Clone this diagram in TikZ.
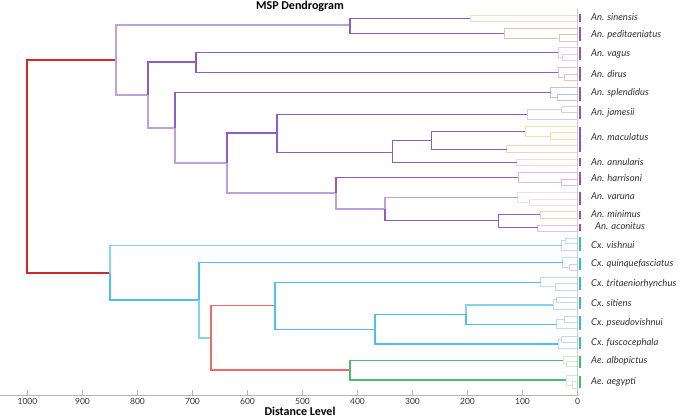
\documentclass[tikz,border=0pt]{standalone}
\usepackage{fontspec}
\setmainfont{Lato}
\newfontfamily\ttlfont{Carlito}
\definecolor{pdark}{HTML}{8E5CC2}
\definecolor{plight}{HTML}{BFA0DC}
\definecolor{cyanc}{HTML}{4DC0EC}
\definecolor{cyanl}{HTML}{86D2F1}
\definecolor{greenc}{HTML}{4CBB78}
\definecolor{redc}{HTML}{CF2A2A}
\definecolor{redl}{HTML}{F06868}
\definecolor{barp}{HTML}{8F4FC6}
\definecolor{barc}{HTML}{2FB5EC}
\definecolor{barg}{HTML}{3CB96A}
\definecolor{axisc}{HTML}{B4B4B4}
\definecolor{vaxis}{HTML}{CCCCCC}
\definecolor{labgray}{HTML}{333333}
\definecolor{csin}{HTML}{F3DCC2}
\definecolor{cped}{HTML}{DCC8B4}
\definecolor{cvag}{HTML}{F4C6EC}
\definecolor{cdir}{HTML}{F4BDBD}
\definecolor{cspl}{HTML}{BFBFEE}
\definecolor{cjam}{HTML}{D4D0DC}
\definecolor{cmac}{HTML}{F4E2A0}
\definecolor{cmacb}{HTML}{E6D8C0}
\definecolor{cann}{HTML}{F6D6D0}
\definecolor{char}{HTML}{E6B4E2}
\definecolor{cvar}{HTML}{F6DEDE}
\definecolor{cmin}{HTML}{F0D0AC}
\definecolor{caco}{HTML}{E6BCEA}
\definecolor{ccx}{HTML}{C4D8EA}
\definecolor{cae}{HTML}{D4E6CC}
\newcommand{\lfbr}[4]{\draw[fl,draw=#1] (577,#3) -| (#2,#4) -- (577,#4);}
\newcommand{\lfarm}[5]{\draw[fl,draw=#1] (577,#3) -| (#2,#4) -- (#5,#4);}
\newcommand{\lfarmup}[5]{\draw[fl,draw=#1] (#4,#3) -| (#2,#5) -- (577,#5);}
\begin{document}
\begin{tikzpicture}[x=1pt,y=-1pt,
  dk/.style={draw=pdark,line width=1.1pt},
  lt/.style={draw=plight,line width=1.5pt},
  cy/.style={draw=cyanc,line width=1.1pt},
  cyl/.style={draw=cyanl,line width=1.5pt},
  gr/.style={draw=greenc,line width=1.1pt},
  rd/.style={draw=redc,line width=1.1pt},
  rdl/.style={draw=redl,line width=1.4pt},
  fl/.style={line width=0.9pt},
  lbar/.style={line width=2pt},
  leaflab/.style={anchor=west,inner sep=0pt,text=labgray,font=\itshape\fontsize{9.5}{11}\selectfont},
  ticklab/.style={inner sep=0pt,text=labgray,font=\fontsize{8.5}{10}\selectfont},
  ttl/.style={inner sep=0pt,text=black,font=\ttlfont\bfseries\fontsize{12}{14}\selectfont}]
\useasboundingbox (0,0) rectangle (685,418);
% axes
\draw[draw=vaxis,line width=1pt] (577.5,9) -- (577.5,395);
\draw[draw=axisc,line width=0.8pt] (0,395) -- (578,395);
\foreach \d in {0,100,...,1000}{
  \draw[draw=axisc,line width=0.8pt] ({577.5-0.55*\d},395) -- ++(0,-5);
  \node[ticklab] (t\d) at ({577.5-0.55*\d},401) {\d};
}
\node[ttl] (title) at (300,6.5) {MSP Dendrogram};
\node[ttl] (xlab) at (300,411) {Distance Level};
% internal coordinates
\coordinate (R) at (27,166);
\coordinate (A) at (116,60);
\coordinate (A1) at (350,25);
\coordinate (A2) at (148,95);
\coordinate (A3) at (196,62);
\coordinate (A4) at (175,128);
\coordinate (A5) at (227,163);
\coordinate (A6) at (277,133);
\coordinate (A7) at (336,193);
\coordinate (A8) at (392.7,152.3);
\coordinate (A9) at (431.7,140.7);
\coordinate (A10) at (385,209);
\coordinate (A11) at (498.3,220.7);
\coordinate (sin) at (470,18.3);
\coordinate (ped) at (504,33.3);
\coordinate (vag) at (558,52.3);
\coordinate (dir) at (558,72.3);
\coordinate (spl) at (550.7,92.3);
\coordinate (jam) at (527.3,114.3);
\coordinate (mac1) at (525,131.7);
\coordinate (mac2) at (506.7,149.3);
\coordinate (ann) at (516.7,162.7);
\coordinate (har) at (518.3,177.3);
\coordinate (var) at (517.7,197.3);
\coordinate (min) at (540,214.3);
\coordinate (aco) at (537.7,227.7);
\coordinate (C) at (110,273);
\coordinate (C1) at (199,300);
\coordinate (D) at (211,338);
\coordinate (C2) at (275,305.7);
\coordinate (C3) at (375,329.3);
\coordinate (C4) at (466,314.3);
\coordinate (G) at (350,370);
\coordinate (vis) at (561.7,245.7);
\coordinate (qui) at (562.7,262.3);
\coordinate (tri) at (540.7,282.3);
\coordinate (sit) at (553.3,305);
\coordinate (pse) at (556.7,324.3);
\coordinate (fus) at (558.3,344);
\coordinate (alb) at (563.3,360.7);
\coordinate (aeg) at (566,380);
% faint leaf groups
\lfbr{csin}{470}{15}{21.7}
\lfarm{cped}{504}{28.3}{38.3}{559}\lfbr{cped}{559}{34.7}{41}
\lfarm{cvag}{558}{47.7}{57}{562}\lfbr{cvag}{562}{54.3}{60}
\lfarm{cdir}{558}{67.3}{77}{564}\lfbr{cdir}{564}{74}{80.7}
\lfarm{cspl}{550.7}{87.3}{97}{557.3}\lfbr{cspl}{557.3}{94}{100.7}
\lfarmup{cjam}{527.3}{109.5}{561.7}{119.3}\lfbr{cjam}{561.7}{106}{112.7}
\lfarm{cmac}{525}{126}{136}{550.7}\lfbr{cmac}{550.7}{132.7}{139}
\lfbr{cmacb}{506.7}{145.7}{152.3}
\lfbr{cann}{516.7}{159.3}{165.3}
\lfarm{char}{518.3}{172.3}{182}{561.7}\lfbr{char}{561.7}{179}{185}
\lfarm{cvar}{517.7}{192.3}{202}{529}\lfbr{cvar}{529}{199}{205}
\lfbr{cmin}{540}{211.7}{218.3}
\lfbr{caco}{537.7}{225}{231}
\lfarmup{ccx}{561.7}{240.8}{565}{250}\lfbr{ccx}{565}{238.3}{243.3}
\lfarm{ccx}{562.7}{257.7}{267.2}{569.3}\lfbr{ccx}{569.3}{264.3}{270}
\lfarm{ccx}{540.7}{277.3}{286.7}{555.7}\lfbr{ccx}{555.7}{283.3}{290}
\lfarmup{ccx}{553.3}{299.5}{556}{309}\lfbr{ccx}{556}{297}{302}
\lfarmup{ccx}{556.7}{319.7}{564.3}{328.3}\lfbr{ccx}{564.3}{316.7}{322.7}
\lfarmup{ccx}{558.3}{339.5}{561}{348.3}\lfbr{ccx}{561}{336.7}{342.3}
\lfarm{cae}{563.3}{356.7}{363.5}{566}\lfbr{cae}{566}{361}{366}
\lfarm{cae}{566}{375.7}{385}{572.7}\lfbr{cae}{572.7}{381.7}{388.3}
% main tree
\draw[rd] (R) |- (A);
\draw[rd] (R) |- (C);
\draw[lt] (A) |- (A1);
\draw[lt] (A) |- (A2);
\draw[dk] (A1) |- (sin);
\draw[dk] (A1) |- (ped);
\draw[lt] (A2) |- (A4);
\draw[dk] (A2) |- (A3);
\draw[dk] (A3) |- (vag);
\draw[dk] (A3) |- (dir);
\draw[lt] (A4) |- (A5);
\draw[dk] (A4) |- (spl);
\draw[lt] (A5) |- (A7);
\draw[dk] (A5) |- (A6);
\draw[dk] (A6) |- (jam);
\draw[dk] (A6) |- (A8);
\draw[dk] (A8) |- (A9);
\draw[dk] (A8) |- (ann);
\draw[dk] (A9) |- (mac1);
\draw[dk] (A9) |- (mac2);
\draw[lt] (A7) |- (A10);
\draw[dk] (A7) |- (har);
\draw[lt] (A10) |- (var);
\draw[dk] (A10) |- (A11);
\draw[dk] (A11) |- (min);
\draw[dk] (A11) |- (aco);
\draw[cyl] (C) |- (vis);
\draw[cy] (C) |- (C1);
\draw[cy] (C1) |- (qui);
\draw[cyl] (C1) |- (D);
\draw[rdl] (D) |- (C2);
\draw[rdl] (D) |- (G);
\draw[cy] (C2) |- (tri);
\draw[cy] (C2) |- (C3);
\draw[cy] (C3) |- (C4);
\draw[cy] (C3) |- (fus);
\draw[cyl] (C4) |- (sit);
\draw[cy] (C4) |- (pse);
\draw[gr] (G) |- (alb);
\draw[gr] (G) |- (aeg);
% leaf bars
\foreach \a/\b in {14/21.7,26.7/40.7,47/60,67/80.7,87/100.7,106/119.3,126.7/152.3,158.3/166,171.7/185,191.7/205,211/219,223.7/231}
  \draw[lbar,draw=barp] (579.8,\a) -- (579.8,\b);
\foreach \a/\b in {236.7/251,257.7/270,277/290,296.7/309,316/330,336.7/349}
  \draw[lbar,draw=barc] (579.8,\a) -- (579.8,\b);
\foreach \a/\b in {356/368.3,375.7/388.3}
  \draw[lbar,draw=barg] (579.8,\a) -- (579.8,\b);
% leaf labels
\node[leaflab] (Lsin) at (591,16.7) {An. sinensis};
\node[leaflab] (Lped) at (591,35) {An. peditaeniatus};
\node[leaflab] (Lvag) at (591,54.3) {An. vagus};
\node[leaflab] (Ldir) at (591,74) {An. dirus};
\node[leaflab] (Lspl) at (591,93.3) {An. splendidus};
\node[leaflab] (Ljam) at (591,112.7) {An. jamesii};
\node[leaflab] (Lmac) at (591,136.7) {An. maculatus};
\node[leaflab] (Lann) at (591,161.7) {An. annularis};
\node[leaflab] (Lhar) at (591,178.3) {An. harrisoni};
\node[leaflab] (Lvar) at (591,196) {An. varuna};
\node[leaflab] (Lmin) at (591,214) {An. minimus};
\node[leaflab] (Laco) at (595,226.5) {An. aconitus};
\node[leaflab] (Lvis) at (591,245) {Cx. vishnui};
\node[leaflab] (Lqui) at (591,264.3) {Cx. quinquefasciatus};
\node[leaflab] (Ltri) at (591,284) {Cx. tritaeniorhynchus};
\node[leaflab] (Lsit) at (591,302.7) {Cx. sitiens};
\node[leaflab] (Lpse) at (591,322.7) {Cx. pseudovishnui};
\node[leaflab] (Lfus) at (591,342.5) {Cx. fuscocephala};
\node[leaflab] (Lalb) at (591,361.3) {Ae. albopictus};
\node[leaflab] (Laeg) at (591,381.7) {Ae. aegypti};
\end{tikzpicture}
\end{document}
